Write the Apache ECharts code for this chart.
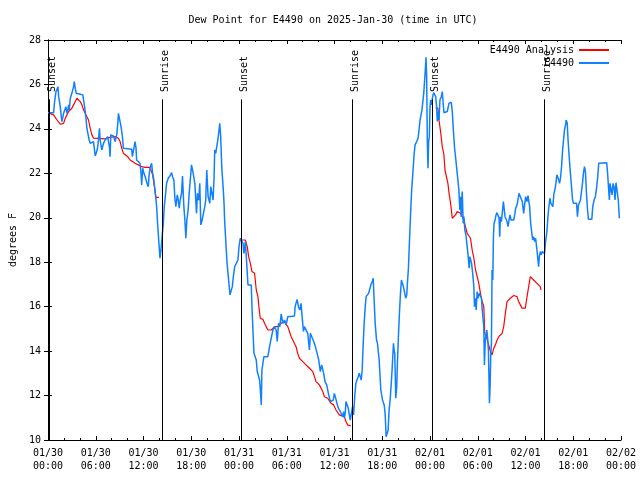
<!DOCTYPE html>
<html>
<head>
<meta charset="utf-8">
<script src="https://cdn.jsdelivr.net/npm/echarts@6/dist/echarts.min.js"></script>
<style>html,body{margin:0;padding:0;background:#fff}#c{width:640px;height:480px}</style>
</head>
<body>
<div id="c"></div>
<script>
// Hours since 2025-01-30 00:00 UTC
const obsHours = [0.00,0.71,0.83,1.00,1.13,1.25,1.34,1.54,1.67,1.75,1.88,1.96,2.09,2.25,2.38,2.50,2.59,2.67,2.80,3.00,3.21,3.30,3.42,3.55,4.05,4.38,4.47,4.59,4.76,4.88,5.01,5.18,5.30,5.51,5.72,5.93,6.05,6.22,6.34,6.47,6.55,6.76,6.97,7.18,7.39,7.51,7.60,7.72,7.80,7.89,8.22,8.43,8.64,8.77,8.85,9.06,9.18,9.35,9.47,10.52,10.60,10.85,10.94,11.06,11.14,11.56,11.69,11.77,11.90,12.06,12.27,12.44,12.60,12.69,12.81,13.02,13.15,13.27,13.44,13.65,13.77,13.94,14.07,14.19,14.36,14.48,14.61,14.78,14.90,15.11,15.32,15.53,15.65,15.82,15.94,16.07,16.24,16.36,16.49,16.61,16.78,16.90,17.07,17.20,17.32,17.45,17.61,17.74,17.91,18.03,18.16,18.28,18.45,18.66,18.78,18.95,19.07,19.20,19.37,19.49,19.70,19.82,19.95,20.12,20.33,20.45,20.62,20.74,20.87,20.95,21.08,21.24,21.37,21.49,21.58,21.70,21.83,22.00,22.12,22.20,22.33,22.50,22.62,22.75,22.87,23.04,23.16,23.29,23.46,23.66,23.87,24.00,24.17,24.29,24.50,24.62,24.79,24.92,25.04,25.13,25.54,25.63,25.75,25.88,26.04,26.17,26.29,26.46,26.59,26.71,26.80,26.88,27.00,27.13,27.63,27.84,28.05,28.26,28.46,28.67,28.80,28.97,29.13,29.30,29.51,29.72,29.92,30.13,30.97,31.05,31.30,31.47,31.64,31.80,31.93,32.10,32.22,32.43,32.64,32.85,32.97,33.14,33.39,33.60,33.81,34.02,34.22,34.39,34.56,34.64,34.81,35.02,35.27,35.48,35.68,35.85,35.98,36.10,36.31,36.48,36.73,36.90,37.02,37.15,37.23,37.35,37.44,37.56,37.73,37.86,37.98,38.15,38.27,38.40,38.57,38.69,38.82,38.98,39.11,39.23,39.36,39.48,39.61,39.73,39.86,39.98,40.15,40.28,40.40,40.57,40.74,40.86,40.99,41.11,41.28,41.40,41.61,41.82,42.03,42.24,42.36,42.49,42.66,42.74,42.86,42.99,43.16,43.28,43.41,43.49,43.57,43.70,43.82,43.91,44.03,44.16,44.28,44.41,44.53,44.66,44.83,44.95,45.08,45.16,45.29,45.41,45.58,45.70,45.83,46.00,46.12,46.33,46.50,46.62,46.75,46.83,46.96,47.08,47.21,47.33,47.41,47.50,47.58,47.66,47.75,47.83,47.92,48.00,48.08,48.21,48.33,48.46,48.58,48.71,48.83,48.92,49.00,49.13,49.25,49.42,49.54,49.67,49.75,50.17,50.38,50.50,50.67,50.80,50.92,51.09,51.25,51.42,51.63,51.75,51.84,51.92,52.05,52.17,52.26,52.38,52.51,52.67,52.80,52.92,53.01,53.09,53.22,53.34,53.51,53.59,53.72,53.80,53.93,54.05,54.18,54.34,54.47,54.55,54.68,54.76,54.84,54.93,55.01,55.14,55.26,55.34,55.47,55.55,55.64,55.72,55.80,55.89,55.97,56.05,56.18,56.30,56.43,56.55,56.68,56.76,56.85,56.97,57.10,57.22,57.31,57.43,57.56,57.68,57.81,57.93,58.06,58.18,58.52,58.64,58.77,58.93,59.06,59.18,59.35,59.48,59.60,59.77,59.89,60.02,60.19,60.31,60.44,60.52,60.65,60.77,60.90,61.02,61.15,61.27,61.44,61.56,61.65,61.73,61.86,61.98,62.11,62.27,62.40,62.52,62.69,62.82,62.94,63.07,63.19,63.44,63.57,63.69,63.82,63.94,64.11,64.28,64.40,64.53,64.65,64.78,64.90,65.03,65.11,65.24,65.36,65.49,65.61,65.78,65.91,66.03,66.28,66.41,66.53,66.66,66.78,66.91,67.03,67.16,67.28,67.41,67.53,67.66,67.78,67.91,68.33,68.45,68.62,68.78,68.95,69.08,69.20,70.20,70.33,70.45,70.54,70.62,70.75,70.87,71.00,71.12,71.25,71.37,71.54,71.66,71.79];
const obsDew = [24.73,24.73,25.23,25.68,25.78,25.90,25.45,25.00,24.55,24.33,24.33,24.70,24.78,25.00,24.70,24.85,25.08,24.85,25.38,25.60,25.90,26.13,25.83,25.60,25.56,25.53,25.30,25.00,24.55,24.03,23.95,23.50,23.35,23.43,23.43,22.78,22.90,23.13,23.50,24.03,23.50,23.05,23.35,23.50,23.50,23.65,23.43,23.20,22.75,23.73,23.68,23.43,23.73,24.25,24.70,24.63,24.10,23.65,23.13,23.08,22.75,22.75,23.43,23.13,22.60,22.45,22.00,21.48,22.23,22.00,21.78,21.55,21.40,21.85,22.23,22.45,22.00,21.78,21.25,20.50,19.75,18.85,18.18,18.55,19.23,19.68,20.50,21.10,21.55,21.78,21.88,22.03,21.85,21.70,20.88,20.50,21.03,20.80,20.43,20.80,21.10,21.88,20.50,19.90,19.08,19.90,20.35,21.10,21.18,22.38,22.15,21.93,21.55,20.20,21.10,20.80,21.55,19.68,19.90,20.13,20.50,20.80,22.15,20.95,20.65,21.40,21.48,20.80,21.85,23.05,22.90,22.83,23.58,23.95,24.25,23.65,22.30,21.40,20.65,19.83,19.00,17.95,17.50,16.98,16.53,16.45,16.90,17.35,17.80,17.88,18.10,18.70,19.08,19.00,18.85,18.40,18.93,18.25,17.50,16.98,16.98,16.00,14.95,13.90,13.83,13.60,13.08,13.00,12.70,12.10,11.58,13.15,13.23,13.75,13.75,14.20,14.58,14.95,15.10,14.95,14.43,15.25,15.10,15.67,15.25,15.40,15.18,15.55,15.58,16.00,16.33,16.00,15.85,16.15,15.55,14.88,15.10,15.18,14.80,14.05,14.80,14.65,14.43,14.20,13.90,13.60,13.08,13.38,13.45,13.00,12.63,12.48,12.03,11.73,11.65,11.80,12.10,11.95,11.65,11.43,11.28,11.20,11.05,11.28,10.98,11.20,11.73,11.65,11.43,11.13,10.90,10.87,11.50,11.13,12.10,12.55,12.70,12.85,13.00,13.08,12.70,13.15,14.35,15.25,16.00,16.45,16.45,16.60,16.75,16.98,17.13,17.28,17.28,15.25,14.50,14.35,13.60,12.25,11.80,11.58,11.20,10.15,10.15,10.45,11.35,11.80,12.70,13.45,14.35,14.05,13.90,11.88,12.40,13.53,14.65,15.70,16.53,17.20,17.05,16.90,16.60,16.38,16.53,17.05,17.73,18.85,20.35,21.25,21.93,22.83,23.28,23.43,23.58,23.95,24.40,24.55,24.78,25.15,25.60,26.20,26.65,27.22,26.35,23.50,22.23,23.43,23.65,25.00,25.30,25.08,25.45,25.63,25.68,25.45,25.00,24.33,24.78,24.40,25.30,25.45,25.68,25.68,24.73,24.78,25.15,25.20,25.20,24.78,24.03,23.13,22.60,22.00,21.25,20.35,20.95,20.05,21.18,19.75,20.05,19.45,19.23,18.70,18.25,17.73,18.25,18.18,17.95,17.58,16.90,16.00,16.38,15.85,16.68,16.38,16.60,16.53,16.38,15.93,16.00,15.10,13.38,14.35,14.65,14.95,14.50,14.05,11.65,12.40,13.90,14.35,17.65,17.20,19.15,19.75,19.90,20.13,20.23,20.20,19.98,19.15,20.05,19.83,20.28,20.73,20.65,20.05,20.13,19.83,19.60,19.90,20.13,19.90,19.90,20.13,20.43,20.58,20.80,21.10,20.95,20.88,20.73,20.20,20.58,20.95,20.73,21.00,21.00,20.50,19.75,19.38,19.00,19.15,18.93,19.08,18.55,18.10,17.80,18.25,18.48,18.33,18.48,18.55,18.40,18.93,19.38,20.05,20.50,20.88,20.65,20.50,21.10,21.25,21.55,21.93,21.78,21.55,21.78,22.30,22.98,23.50,23.95,24.18,24.40,24.25,23.43,22.75,22.15,21.40,20.80,20.65,20.58,20.65,20.05,20.58,20.65,20.80,21.18,21.55,22.00,22.30,22.08,21.10,20.43,19.93,19.93,20.50,20.80,20.95,21.40,21.85,22.45,22.48,21.93,21.25,20.80,21.55,21.63,21.03,21.55,21.40,20.80,21.58,21.63,20.80,19.98];

// Analysis (null separates runs)
const anaHours = [0.00,0.71,1.13,1.54,1.75,1.96,2.17,2.38,2.59,2.80,3.00,3.21,3.42,3.63,3.84,4.05,4.26,4.47,4.67,4.88,5.09,5.30,5.51,5.72,5.93,7.18,7.60,8.43,8.64,8.85,9.06,9.27,9.47,9.68,10.02,10.31,10.52,10.94,11.35,11.77,12.19,12.81,13.02,13.15,13.31,13.44,13.56,13.94,
  14.0,
  24.10,24.79,25.04,25.21,25.42,25.63,25.96,26.17,26.38,26.50,26.67,27.00,27.21,27.42,27.63,28.05,28.46,28.88,29.30,29.72,29.92,30.13,30.34,30.55,30.76,30.97,31.17,31.38,31.59,32.01,32.43,32.85,33.27,33.48,33.68,34.10,34.52,34.73,35.14,35.56,35.89,36.19,36.39,36.60,36.81,37.23,37.44,37.65,38.06,
  38.1,
  48.71,49.00,49.13,49.33,49.54,49.75,49.88,50.09,50.25,50.42,50.59,50.80,51.00,51.21,51.42,51.63,51.84,52.05,52.26,52.46,52.67,52.88,53.09,53.30,53.51,53.72,53.93,54.13,54.34,54.55,54.76,54.88,55.09,55.26,55.43,55.60,55.80,56.01,56.22,56.43,56.64,56.85,57.06,57.26,57.47,57.68,58.10,58.52,58.73,58.93,59.14,59.35,59.56,59.77,59.98,60.19,60.40,60.60,60.81,61.02,61.23,61.44,61.65,61.86,61.94];
const anaDew = [24.73,24.63,24.40,24.21,24.16,24.25,24.48,24.63,24.78,24.82,24.93,25.08,25.23,25.38,25.38,25.23,25.08,24.85,24.70,24.70,24.40,24.03,23.73,23.58,23.55,23.55,23.61,23.65,23.65,23.58,23.43,23.13,22.90,22.83,22.75,22.60,22.53,22.45,22.38,22.30,22.27,22.27,22.23,21.93,21.55,21.25,20.92,20.92,
  null,
  19.00,19.00,18.70,18.25,17.95,17.58,17.50,16.75,16.45,16.00,15.48,15.43,15.25,15.10,14.95,14.95,15.10,15.10,15.25,15.33,15.33,15.10,14.88,14.65,14.50,14.43,14.20,13.90,13.68,13.53,13.38,13.23,13.08,12.85,12.63,12.48,12.18,11.95,11.88,11.65,11.58,11.35,11.28,11.13,11.05,11.05,10.83,10.68,10.63,
  null,
  24.93,24.93,24.40,23.88,23.20,22.83,22.15,22.08,21.55,21.03,20.65,19.98,19.98,20.13,20.28,20.35,20.20,20.05,19.90,19.60,19.30,19.23,19.08,18.55,18.18,17.65,17.35,17.05,16.60,16.23,16.00,14.80,14.65,14.43,14.20,13.98,13.83,14.13,14.28,14.50,14.65,14.73,14.80,15.10,15.70,16.23,16.38,16.50,16.53,16.45,16.23,16.08,15.93,15.88,15.93,16.45,16.90,17.35,17.35,17.20,17.13,17.05,16.98,16.90,16.75];

const eventHours = [0.15, 14.3, 24.2, 38.23, 48.23, 62.27];
const eventNames = ['Sunset','Sunrise','Sunset','Sunrise','Sunset','Sunrise'];

const FONT = '"DejaVu Sans Mono", "Liberation Mono", monospace';
const startMs = Date.UTC(2025, 0, 30);
const pad = n => (n < 10 ? '0' : '') + n;
function fmtHour(h) {
  const d = new Date(startMs + h * 3600e3);
  return pad(d.getUTCMonth() + 1) + '/' + pad(d.getUTCDate()) + '\n' + pad(d.getUTCHours()) + ':' + pad(d.getUTCMinutes());
}

const obsData = obsHours.map((h, i) => [h, obsDew[i]]);
const anaData = anaHours.map((h, i) => [h, anaDew[i]]);
const eventData = eventHours.map((h, i) => [h, i]);

const chart = echarts.init(document.getElementById('c'), null, {renderer: 'canvas'});
const baseX = {
  type: 'value', min: 0, max: 72, interval: 6,
  axisLine: {show: true, lineStyle: {color: '#000', width: 1}},
  axisTick: {show: true, inside: true, length: 4, lineStyle: {color: '#000'}},
  minorTick: {show: true, splitNumber: 3, length: 2, lineStyle: {color: '#000'}},
  splitLine: {show: false}, minorSplitLine: {show: false}
};
const baseY = {
  type: 'value', min: 10, max: 28, interval: 2,
  axisLine: {show: true, lineStyle: {color: '#000', width: 1}},
  axisTick: {show: true, inside: true, length: 4, lineStyle: {color: '#000'}},
  splitLine: {show: false}
};
chart.setOption({
  animation: false,
  backgroundColor: '#fff',
  textStyle: {fontFamily: FONT},
  title: {
    text: 'Dew Point for E4490 on 2025-Jan-30 (time in UTC)',
    left: 333, top: 15, padding: 0, textAlign: 'center',
    textStyle: {fontFamily: FONT, fontSize: 10, fontWeight: 'normal', color: '#000'}
  },
  legend: {
    orient: 'vertical', right: 26, top: 39, align: 'right',
    itemWidth: 30, itemHeight: 2, itemGap: 1, icon: 'rect',
    textStyle: {fontFamily: FONT, fontSize: 10, color: '#000', lineHeight: 12},
    data: ['E4490 Analysis', 'E4490']
  },
  grid: {left: 46, right: 19, top: 40, bottom: 40, containLabel: false},
  xAxis: [
    Object.assign({}, baseX, {
      position: 'bottom',
      axisLabel: {show: true, margin: 7, color: '#000', fontFamily: FONT, fontSize: 10, lineHeight: 13,
        showMinLabel: true, showMaxLabel: true, formatter: v => fmtHour(v)}
    }),
    Object.assign({}, baseX, {position: 'top', axisLabel: {show: false}})
  ],
  yAxis: [
    Object.assign({}, baseY, {
      position: 'left',
      name: 'degrees F', nameLocation: 'middle', nameGap: 30, nameRotate: 90,
      nameTextStyle: {fontFamily: FONT, fontSize: 10, color: '#000'},
      axisLabel: {show: true, margin: 7, color: '#000', fontFamily: FONT, fontSize: 10}
    }),
    Object.assign({}, baseY, {position: 'right', axisLabel: {show: false}})
  ],
  series: [
    {
      name: 'E4490 Analysis', type: 'line', data: anaData, showSymbol: false, symbol: 'none',
      connectNulls: false, lineStyle: {color: '#ff0000', width: 1.2}, itemStyle: {color: '#ff0000'}, z: 2
    },
    {
      name: 'E4490', type: 'line', data: obsData, showSymbol: false, symbol: 'none',
      lineStyle: {color: '#1080ff', width: 1.5}, itemStyle: {color: '#1080ff'}, z: 3
    },
    {
      type: 'custom', data: eventData, z: 4, silent: true,
      renderItem: function (params, api) {
        const h = api.value(0);
        const name = eventNames[api.value(1)];
        const top = api.coord([h, 25.33]);
        const bot = api.coord([h, 10]);
        const lab = api.coord([h, 25.66]);
        const x = Math.round(top[0]) + 0.5;
        return {
          type: 'group',
          children: [
            {type: 'line', shape: {x1: x, y1: top[1], x2: x, y2: bot[1]}, style: {stroke: '#000', lineWidth: 1}},
            {type: 'text', x: x + 3, y: lab[1], rotation: Math.PI / 2,
              style: {text: name, fill: '#000', font: '10px ' + FONT, align: 'left', verticalAlign: 'middle'}}
          ]
        };
      }
    }
  ]
});
</script>
</body>
</html>
